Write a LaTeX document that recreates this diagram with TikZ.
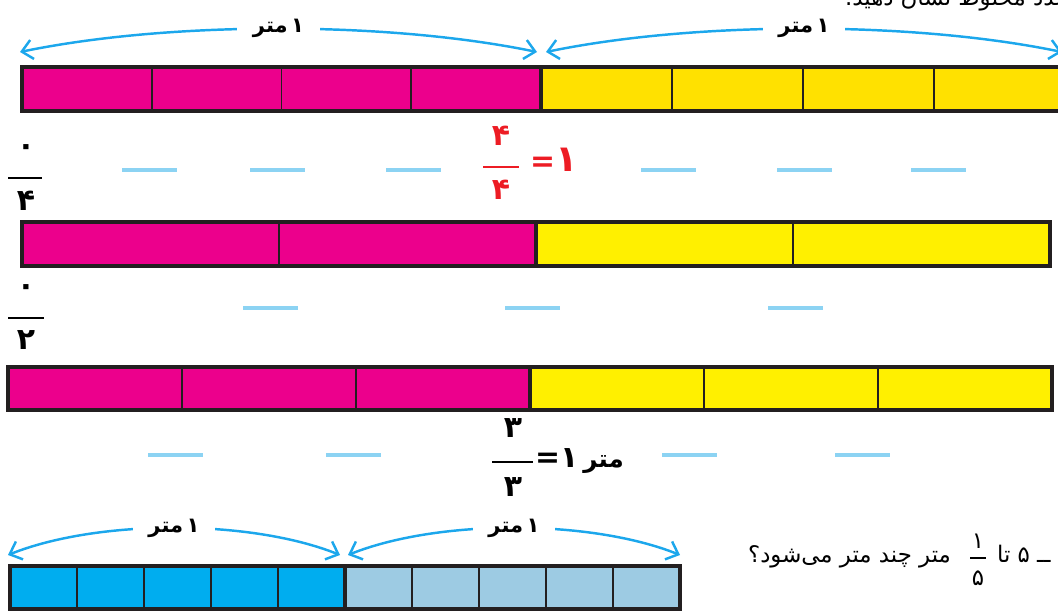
\documentclass[tikz,border=0pt]{standalone}
\usepackage{fontspec}
\newfontfamily\fa[Script=Arabic]{DejaVu Sans}
\TeXXeTstate=1
\usetikzlibrary{arrows.meta}

\definecolor{barpink}{HTML}{EC008C}
\definecolor{baryellowA}{HTML}{FFE100}
\definecolor{baryellow}{HTML}{FFF000}
\definecolor{barline}{HTML}{231F20}
\definecolor{arrowblue}{HTML}{1CA7EC}
\definecolor{blankblue}{HTML}{8CD3F3}
\definecolor{fracred}{HTML}{ED1C24}
\definecolor{bluedark}{HTML}{00ADEF}
\definecolor{bluelight}{HTML}{9DCBE3}

\newcommand{\onemeter}{\hbox{متر}\,\hbox{۱}}

\begin{document}
\begin{tikzpicture}[
        x=0.02cm, y=-0.02cm,
        every node/.style={inner sep=1pt},
        cellline/.style={draw=barline, line width=1.1pt},
        barframe/.style={draw=barline, line width=1.8pt},
        middiv/.style={draw=barline, line width=2.4pt},
        meter/.style={draw=arrowblue, line width=1.4pt,
            {Straight Barb[length=6pt,width=11pt]}-{Straight Barb[length=6pt,width=11pt]}},
        meterlabel/.style={fill=white, inner xsep=9pt, font=\fa\bfseries\fontsize{12}{14}\selectfont},
        blank/.style={draw=blankblue, line width=1.8pt},
        fracline/.style={line width=1.7pt},
        digit/.style={font=\fa\bfseries\fontsize{17}{20}\selectfont},
        zero/.style={font=\fa\bfseries\fontsize{17}{20}\selectfont},
        qtext/.style={font=\fa\fontsize{13}{16}\selectfont}
    ]
        \useasboundingbox (0,0) rectangle (1058,611);
        \clip (0,0) rectangle (1058,611);

        % heading, cut by the top edge
        \node[qtext, anchor=base west] (head) at (843,6) {\beginR عدد مخلوط نشان دهید.\endR};

        % bar 1: two metres in quarters
        \foreach \i in {0,...,3}
            \filldraw[fill=barpink, cellline] ({22+129.75*\i},67) rectangle ++(129.75,44);
        \foreach \i in {0,...,3}
            \filldraw[fill=baryellowA, cellline] ({541+131*\i},67) rectangle ++(131,44);
        \draw[barframe] (22,67) rectangle (1065,111);
        \draw[middiv] (541,67) -- (541,111);

        \coordinate (ma1) at (20,52);
        \coordinate (mb1) at (537,52);
        \coordinate (ma2) at (546,52);
        \coordinate (mb2) at (1062,52);
        \draw[meter] (ma1) .. controls +(150,-31) and +(-150,-31) .. node[meterlabel] (lab1) {\onemeter} (mb1);
        \draw[meter] (ma2) .. controls +(150,-31) and +(-150,-31) .. node[meterlabel] (lab2) {\onemeter} (mb2);

        \node[zero] (zq) at (26,150) {۰};
        \draw[fracline] (8,178) -- (42,178);
        \node[digit] (dq) at (26,201) {۴};
        \foreach \x in {122,250,386,641,777,911}
            \draw[blank] (\x,170) -- ++(55,0);
        \node[digit, text=fracred] (nr) at (501,136) {۴};
        \draw[fracline, fracred] (483,167) -- (519,167);
        \node[digit, text=fracred] (dr) at (501,190) {۴};
        \node[digit, text=fracred, anchor=west] (er) at (528,160) {\hbox{=}\hbox{\fontsize{21}{24}\selectfont ۱}};

        % bar 2: halves
        \foreach \i in {0,1}
            \filldraw[fill=barpink, cellline] ({22+257*\i},222) rectangle ++(257,44);
        \foreach \i in {0,1}
            \filldraw[fill=baryellow, cellline] ({536+257*\i},222) rectangle ++(257,44);
        \draw[barframe] (22,222) rectangle (1050,266);
        \draw[middiv] (536,222) -- (536,266);

        \node[zero] (zh) at (26,290) {۰};
        \draw[fracline] (8,318) -- (44,318);
        \node[digit] (dh) at (26,340) {۲};
        \foreach \x in {243,505,768}
            \draw[blank] (\x,308) -- ++(55,0);

        % bar 3: thirds
        \foreach \i in {0,...,2}
            \filldraw[fill=barpink, cellline] ({8+174*\i},367) rectangle ++(174,43);
        \foreach \i in {0,...,2}
            \filldraw[fill=baryellow, cellline] ({530+174*\i},367) rectangle ++(174,43);
        \draw[barframe] (8,367) rectangle (1052,410);
        \draw[middiv] (530,367) -- (530,410);

        \foreach \x in {148,326,662,835}
            \draw[blank] (\x,455) -- ++(55,0);
        \node[digit] (nt) at (513,428) {۳};
        \draw[fracline] (492,462) -- (533,462);
        \node[digit] (dt) at (513,487) {۳};
        \node[digit, anchor=west] (et) at (533,461) {\hbox{=}\hbox{۱}\,\hbox{\fontsize{14}{17}\selectfont متر}};

        % bar 4: two metres in fifths
        \foreach \i in {0,...,4}
            \filldraw[fill=bluedark, cellline] ({10+67*\i},566) rectangle ++(67,43);
        \foreach \i in {0,...,4}
            \filldraw[fill=bluelight, cellline] ({345+67*\i},566) rectangle ++(67,43);
        \draw[barframe] (10,566) rectangle (680,609);
        \draw[middiv] (345,566) -- (345,609);

        \coordinate (ma3) at (8,555);
        \coordinate (mb3) at (340,555);
        \coordinate (ma4) at (348,555);
        \coordinate (mb4) at (680,555);
        \draw[meter] (ma3) .. controls +(90,-36) and +(-90,-36) .. node[meterlabel] (lab3) {\onemeter} (mb3);
        \draw[meter] (ma4) .. controls +(90,-36) and +(-90,-36) .. node[meterlabel] (lab4) {\onemeter} (mb4);

        % question on the right
        \node[qtext, anchor=base east] (q1) at (953,562) {\beginR متر چند متر می‌شود؟\endR};
        \node[qtext] (qn) at (978,541) {۱};
        \draw[line width=1pt] (970,558) -- (986,558);
        \node[qtext] (qd) at (978,578) {۵};
        \node[qtext, anchor=base west] (q2) at (995,562) {\beginR ــ ۵ تا\endR};
    \end{tikzpicture}
\end{document}
